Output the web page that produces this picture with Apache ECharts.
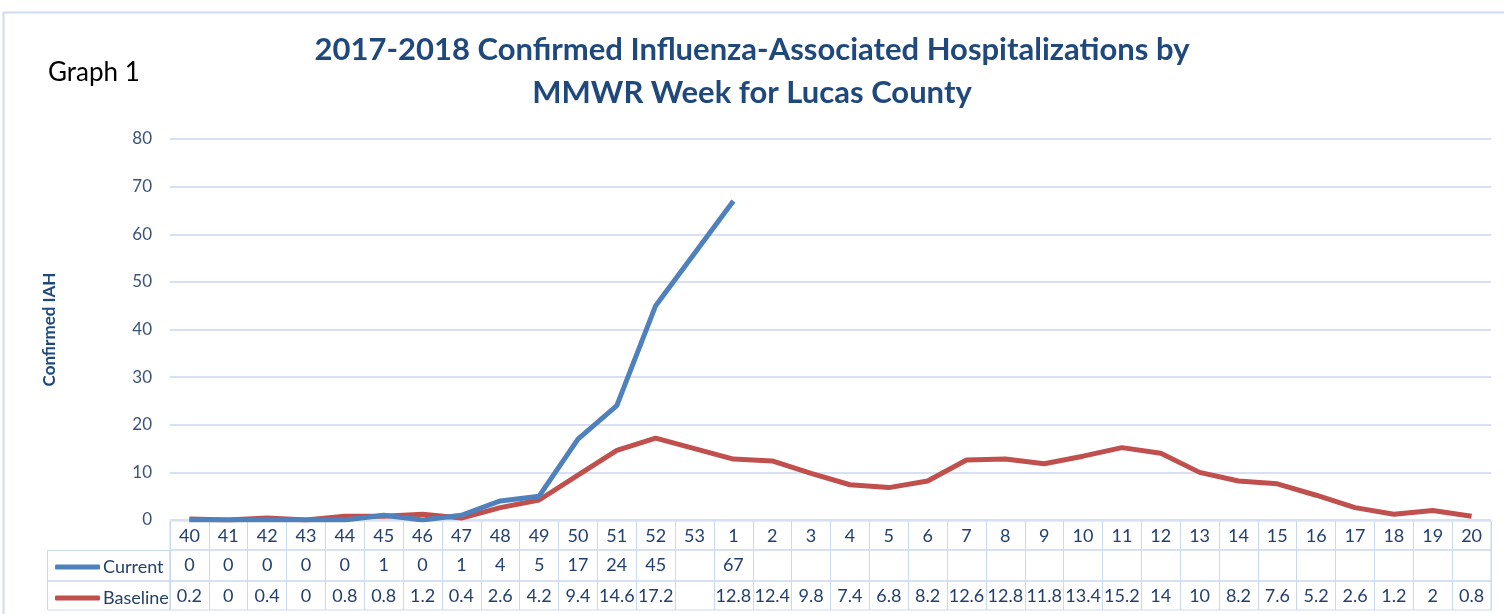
<!DOCTYPE html>
<html>
<head>
<meta charset="utf-8">
<script src="https://cdn.jsdelivr.net/npm/echarts@6/dist/echarts.min.js"></script>
<style>html,body{margin:0;padding:0;background:#fff}#c{width:1504px;height:614px}</style>
</head>
<body>
<div id="c"></div>
<script>
var weeks = ['40','41','42','43','44','45','46','47','48','49','50','51','52','53','1','2','3','4','5','6','7','8','9','10','11','12','13','14','15','16','17','18','19','20'];
var current = [0,0,0,0,0,1,0,1,4,5,17,24,45,null,67,null,null,null,null,null,null,null,null,null,null,null,null,null,null,null,null,null,null,null];
var baseline = [0.2,0,0.4,0,0.8,0.8,1.2,0.4,2.6,4.2,9.4,14.6,17.2,null,12.8,12.4,9.8,7.4,6.8,8.2,12.6,12.8,11.8,13.4,15.2,14,10,8.2,7.6,5.2,2.6,1.2,2,0.8];
var yTicks = [0,10,20,30,40,50,60,70,80];

var BLUE = '#4f81bd', RED = '#c0504d';
var GRIDC = '#d6e2f3', TABLEC = '#c9d9ee';
var TXT = '#24406e', AXT = '#3c5379';
var FONT = 'Lato, "Open Sans", sans-serif';
var NFONT = '"Liberation Sans Narrow", Lato, sans-serif';

var L = 170, R = 1504 - 1491;
function fmt(arr){ return function(v, i){ var x = arr[i]; return (x === null || x === undefined) ? '' : String(x); }; }

function tableAxis(gi, formatter){
  return {
    type: 'category', gridIndex: gi, data: weeks, position: 'top', boundaryGap: true,
    axisLine: {show: false}, axisTick: {show: false},
    splitLine: {show: true, lineStyle: {color: TABLEC, width: 1}},
    axisLabel: {inside: true, margin: 6, interval: 0, color: TXT, fontSize: 18, fontFamily: NFONT, formatter: formatter}
  };
}

var chart = echarts.init(document.getElementById('c'), null, {renderer: 'canvas'});
chart.setOption({
  animation: false,
  backgroundColor: '#ffffff',
  title: {
    text: '2017-2018 Confirmed Influenza-Associated Hospitalizations by\nMMWR Week for Lucas County',
    left: 'center', top: 28, padding: [0, 0, 0, 18],
    textStyle: {color: '#1f497d', fontSize: 31, fontWeight: 'bold', fontFamily: FONT, lineHeight: 43}
  },
  legend: [
    {data: ['Current'], left: 50, top: 553, icon: 'roundRect', itemWidth: 45, itemHeight: 5,
     textStyle: {color: TXT, fontSize: 18, fontFamily: NFONT, padding: [0,0,0,-2]}},
    {data: ['Baseline'], left: 50, top: 584, icon: 'roundRect', itemWidth: 45, itemHeight: 5,
     textStyle: {color: TXT, fontSize: 18, fontFamily: NFONT, padding: [0,0,0,-2]}}
  ],
  grid: [
    {left: L, right: R, top: 139, height: 381},
    {left: L, right: R, top: 521, height: 29, show: true, borderColor: TABLEC, borderWidth: 1},
    {left: L, right: R, top: 550, height: 31, show: true, borderColor: TABLEC, borderWidth: 1},
    {left: L, right: R, top: 581, height: 29, show: true, borderColor: TABLEC, borderWidth: 1}
  ],
  xAxis: [
    {type: 'category', gridIndex: 0, data: weeks, boundaryGap: true,
     axisLine: {show: false}, axisTick: {show: false}, axisLabel: {show: false}},
    tableAxis(1, function(v){ return v; }),
    tableAxis(2, fmt(current)),
    tableAxis(3, fmt(baseline))
  ],
  yAxis: [
    {type: 'value', gridIndex: 0, min: yTicks[0], max: yTicks[yTicks.length-1], interval: 10,
     name: 'Confirmed IAH', nameLocation: 'middle', nameGap: 112, nameRotate: 90,
     nameTextStyle: {color: '#1f497d', fontSize: 17, fontWeight: 'bold', fontFamily: FONT},
     axisLine: {show: false}, axisTick: {show: false},
     axisLabel: {color: AXT, fontSize: 17, fontFamily: FONT, margin: 18},
     splitLine: {lineStyle: {color: GRIDC, width: 2}}},
    {type: 'value', gridIndex: 1, show: false},
    {type: 'value', gridIndex: 2, show: false},
    {type: 'value', gridIndex: 3, show: false}
  ],
  graphic: [
    {type: 'rect', shape: {x: 3.5, y: 12.5, width: 1520, height: 700}, style: {fill: 'none', stroke: '#cfdcef', lineWidth: 2}, silent: true},
    {type: 'text', left: 48, top: 60, style: {text: 'Graph 1', fill: '#000', fontSize: 26, fontFamily: FONT}},
    {type: 'rect', shape: {x: 47.5, y: 550.5, width: 122.5, height: 30.5}, style: {fill: 'none', stroke: TABLEC, lineWidth: 1}, silent: true},
    {type: 'rect', shape: {x: 47.5, y: 581, width: 122.5, height: 29}, style: {fill: 'none', stroke: TABLEC, lineWidth: 1}, silent: true}
  ],
  series: [
    {name: 'Current', type: 'line', xAxisIndex: 0, yAxisIndex: 0, data: current, connectNulls: true,
     symbol: 'none', lineStyle: {color: BLUE, width: 5}, itemStyle: {color: BLUE}, z: 3},
    {name: 'Baseline', type: 'line', xAxisIndex: 0, yAxisIndex: 0, data: baseline, connectNulls: true,
     symbol: 'none', lineStyle: {color: RED, width: 5}, itemStyle: {color: RED}, z: 2}
  ]
});
</script>
</body>
</html>
